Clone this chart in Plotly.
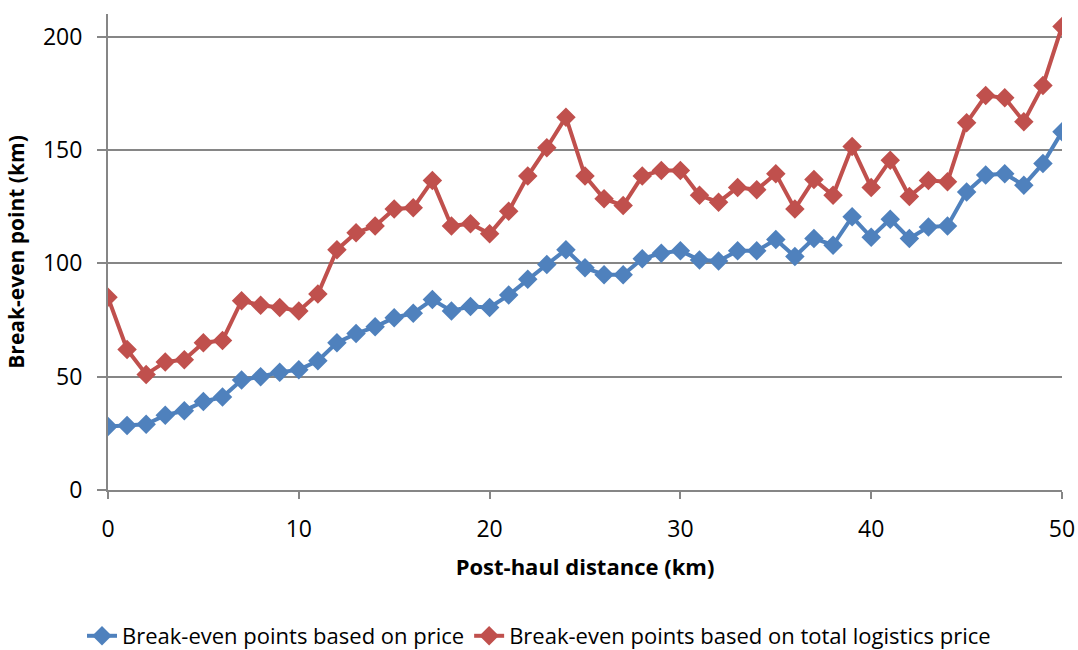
import plotly.graph_objects as go

distance = list(range(0, 51))
price_based = [28, 28.5, 29, 33, 35, 39, 41, 48.5, 50, 52, 53, 57, 65, 69, 72, 76, 78, 84, 79, 81,
               80.5, 86, 93, 99.5, 106, 98, 95, 95, 102, 104.5, 105.5, 101.5, 101, 105.5, 105.5, 110.5,
               103, 111, 108, 120.5, 111.5, 119.5, 111, 116, 116.5, 131.5, 139, 139.5, 134.5, 144, 158]
logistics_based = [85, 62, 51, 56.5, 57.5, 65, 66, 83.5, 81.5, 80.5, 79, 86.5, 106, 113.5, 116.5, 124,
                   124.5, 136.5, 116.5, 117.5, 113, 123, 138.5, 151, 164.5, 138.5, 128.5, 125.5, 138.5,
                   141, 141, 130, 127, 133.5, 132.5, 139.5, 124, 137, 130, 151.5, 133.5, 145.5, 129.5,
                   136.5, 136, 162, 174, 173, 162.5, 178.5, 204.5]
names = ["Break-even points based on price", "Break-even points based on total logistics price"]
colors = ["#4F81BD", "#C0504D"]

font_family = "'Open Sans', Lato, sans-serif"

fig = go.Figure()
for ys, name, c in zip([price_based, logistics_based], names, colors):
    fig.add_trace(go.Scatter(
        x=distance, y=ys, name=name, mode="lines+markers",
        line=dict(color=c, width=4),
        marker=dict(symbol="diamond", size=15, color=c),
    ))

fig.update_layout(
    width=1078, height=650,
    margin=dict(l=108, r=16, t=14, b=160),
    plot_bgcolor="white", paper_bgcolor="white",
    font=dict(family=font_family, size=22, color="#000000"),
    showlegend=True,
    legend=dict(orientation="h", xref="container", x=0.5, xanchor="center",
                yref="container", y=(650 - 636) / 650, yanchor="middle",
                font=dict(size=22), itemwidth=30, tracegroupgap=0),
    xaxis=dict(
        range=[0, 50], tickmode="linear", tick0=0, dtick=10,
        showgrid=False, zeroline=False, automargin=False,
        showline=True, linecolor="#868686", linewidth=2,
        ticks="outside", ticklen=7, tickcolor="#868686", tickwidth=2,
        ticklabelstandoff=10,
        title=dict(text="<b>Post-haul distance (km)</b>", font=dict(size=22), standoff=17),
        tickfont=dict(size=23),
    ),
    yaxis=dict(
        range=[0, 210], tickmode="array", tickvals=[0, 50, 100, 150, 200],
        showgrid=True, gridcolor="#868686", gridwidth=2,
        zeroline=False, automargin=False,
        showline=True, linecolor="#868686", linewidth=2,
        ticks="outside", ticklen=9, tickcolor="#868686", tickwidth=2,
        ticklabelstandoff=10,
        title=dict(text="<b>Break-even point (km)</b>", font=dict(size=21), standoff=13),
        tickfont=dict(size=23),
    ),
)

fig.write_html("out.html")
